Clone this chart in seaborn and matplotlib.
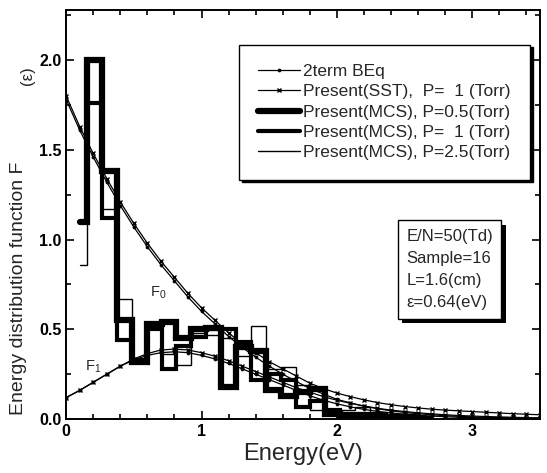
import numpy as np
import pandas as pd
import matplotlib
matplotlib.use("Agg")
import matplotlib.pyplot as plt
import seaborn as sns
from matplotlib import patheffects as pe

# ---------------- data ----------------
energy = [0.0, 0.1, 0.2, 0.3, 0.4, 0.5, 0.6, 0.7, 0.8, 0.9, 1.0, 1.1, 1.2, 1.3, 1.4, 1.5, 1.6, 1.7,
          1.8, 1.9, 2.0, 2.1, 2.2, 2.3, 2.4, 2.5, 2.6, 2.7, 2.8, 2.9, 3.0, 3.1, 3.2, 3.3, 3.4, 3.5]

f0_beq = [1.78, 1.61, 1.46, 1.32, 1.19, 1.07, 0.96, 0.86, 0.77, 0.68, 0.60, 0.53, 0.46, 0.40, 0.345,
          0.295, 0.25, 0.21, 0.17, 0.14, 0.11, 0.09, 0.072, 0.058, 0.046, 0.037, 0.03, 0.024, 0.019,
          0.015, 0.012, 0.01, 0.008, 0.006, 0.005, 0.004]
f0_sst = [1.80, 1.63, 1.48, 1.34, 1.21, 1.09, 0.98, 0.88, 0.79, 0.70, 0.62, 0.55, 0.48, 0.42, 0.37,
          0.32, 0.28, 0.24, 0.20, 0.17, 0.145, 0.125, 0.107, 0.092, 0.08, 0.07, 0.062, 0.055, 0.05,
          0.046, 0.042, 0.038, 0.034, 0.03, 0.027, 0.024]
f1_beq = [0.12, 0.16, 0.205, 0.25, 0.295, 0.33, 0.355, 0.37, 0.375, 0.37, 0.355, 0.335, 0.31, 0.28,
          0.25, 0.22, 0.19, 0.16, 0.13, 0.105, 0.085, 0.068, 0.054, 0.043, 0.034, 0.027, 0.021,
          0.017, 0.013, 0.01, 0.008, 0.006, 0.005, 0.004, 0.003, 0.002]
f1_sst = [0.12, 0.16, 0.205, 0.25, 0.295, 0.335, 0.365, 0.385, 0.39, 0.385, 0.37, 0.35, 0.325, 0.295,
          0.265, 0.235, 0.205, 0.175, 0.15, 0.125, 0.105, 0.088, 0.073, 0.06, 0.05, 0.042, 0.035,
          0.029, 0.024, 0.02, 0.017, 0.014, 0.012, 0.01, 0.008, 0.007]

# MCS histogram bin edges (eV)
bin_edges = [0.10, 0.155, 0.265, 0.375, 0.485, 0.595, 0.705, 0.815, 0.925, 1.035, 1.145, 1.255,
             1.365, 1.475, 1.585, 1.695, 1.805, 1.915, 2.025, 2.135, 2.245, 2.355, 2.465, 2.575,
             2.685]
mcs_p05 = [1.10, 2.00, 1.38, 0.55, 0.32, 0.53, 0.54, 0.45, 0.50, 0.51, 0.18, 0.40, 0.38, 0.16,
           0.13, 0.15, 0.17, 0.03, 0.02, 0.02, 0.02, 0.01, 0.005, 0.0]
mcs_p1 = [1.10, 1.76, 1.12, 0.44, 0.33, 0.50, 0.28, 0.41, 0.46, 0.50, 0.50, 0.43, 0.22, 0.25,
          0.22, 0.07, 0.10, 0.05, 0.02, 0.01, 0.015, 0.01, 0.01, 0.005]
mcs_p25 = [0.86, 2.00, 1.17, 0.67, 0.31, 0.52, 0.36, 0.30, 0.48, 0.47, 0.45, 0.35, 0.52, 0.28,
           0.29, 0.19, 0.05, 0.02, 0.05, 0.07, 0.03, 0.02, 0.03, 0.01]

labels = ["2term BEq", "Present(SST),  P=  1 (Torr)", "Present(MCS), P=0.5(Torr)",
          "Present(MCS), P=  1 (Torr)", "Present(MCS), P=2.5(Torr)"]
info_lines = ["E/N=50(Td)", "Sample=16", "L=1.6(cm)", "ε=0.64(eV)"]

# ---------------- style ----------------
sns.set_style("ticks")
plt.rcParams["font.family"] = ["Liberation Sans", "DejaVu Sans"]
plt.rcParams["mathtext.fontset"] = "custom"
plt.rcParams["mathtext.rm"] = "Liberation Sans"
plt.rcParams["mathtext.it"] = "Liberation Sans"

fig = plt.figure(figsize=(5.47, 4.73), dpi=100)
ax = fig.add_axes([0.121, 0.114, 0.866, 0.865])


def curve(y, marker, ms, mew):
    sns.lineplot(x=energy, y=y, ax=ax, color="black", lw=0.9, marker=marker,
                 markersize=ms, markeredgewidth=mew, markeredgecolor="black", legend=False)
    return ax.lines[-1]


h_beq = curve(f0_beq, "o", 2.2, 0.5)
curve(f1_beq, "o", 2.2, 0.5)
h_sst = curve(f0_sst, "x", 3.5, 1.0)
curve(f1_sst, "x", 3.5, 1.0)


def hist(vals, lw):
    df = pd.DataFrame({"E": bin_edges, "F": list(vals) + [vals[-1]]})
    sns.lineplot(data=df, x="E", y="F", ax=ax, color="black", lw=lw,
                 drawstyle="steps-post", legend=False, solid_joinstyle="miter")
    return ax.lines[-1]


h_p25 = hist(mcs_p25, 1.0)
h_p1 = hist(mcs_p1, 3.0)
h_p05 = hist(mcs_p05, 4.5)

ax.set_xlim(0, 3.5)
ax.set_ylim(0, 2.28)
ax.set_xticks([0, 1, 2, 3])
ax.set_xticks(np.arange(0, 3.51, 0.2), minor=True)
ax.set_yticks([0.0, 0.5, 1.0, 1.5, 2.0])
ax.set_yticklabels(["0.0", "0.5", "1.0", "1.5", "2.0"])
ax.set_yticks(np.arange(0, 2.28, 0.25), minor=True)
ax.tick_params(which="both", direction="in", top=True, right=True, width=1.2, colors="black")
ax.tick_params(which="major", length=6, labelsize=11.5)
ax.tick_params(which="minor", length=3.5)
for lab in ax.get_xticklabels() + ax.get_yticklabels():
    lab.set_fontweight("bold")
for s in ax.spines.values():
    s.set_linewidth(1.4)
    s.set_color("black")

ax.set_xlabel("Energy(eV)", fontsize=17, labelpad=3)
ax.set_ylabel("Energy distribution function F", fontsize=14)
ax.yaxis.set_label_coords(-0.082, 0.32)
ax.text(-0.082, 0.84, "(ε)", transform=ax.transAxes, rotation=90, fontsize=12,
        ha="center", va="center")

ax.text(0.62, 0.68, "F$_0$", fontsize=10.5)
ax.text(0.14, 0.27, "F$_1$", fontsize=10.5)

leg = ax.legend([h_beq, h_sst, h_p05, h_p1, h_p25], labels, loc="upper left",
                bbox_to_anchor=(0.365, 0.915), fontsize=12.5, frameon=True, fancybox=False,
                edgecolor="black", handlelength=2.4, handletextpad=0.2, labelspacing=0.3,
                borderpad=1.1, borderaxespad=0.0, shadow={"color": "black", "alpha": 1.0})
leg.get_frame().set_linewidth(1.0)

t = ax.text(0.718, 0.465, "\n".join(info_lines), transform=ax.transAxes, fontsize=12,
            va="top", ha="left", linespacing=1.6,
            bbox=dict(boxstyle="square,pad=0.5", fc="white", ec="black", lw=1.0))
t.get_bbox_patch().set_path_effects([pe.SimplePatchShadow(offset=(3, -3), shadow_rgbFace="black",
                                                          alpha=1.0), pe.Normal()])

fig.savefig("out.png", dpi=100)
